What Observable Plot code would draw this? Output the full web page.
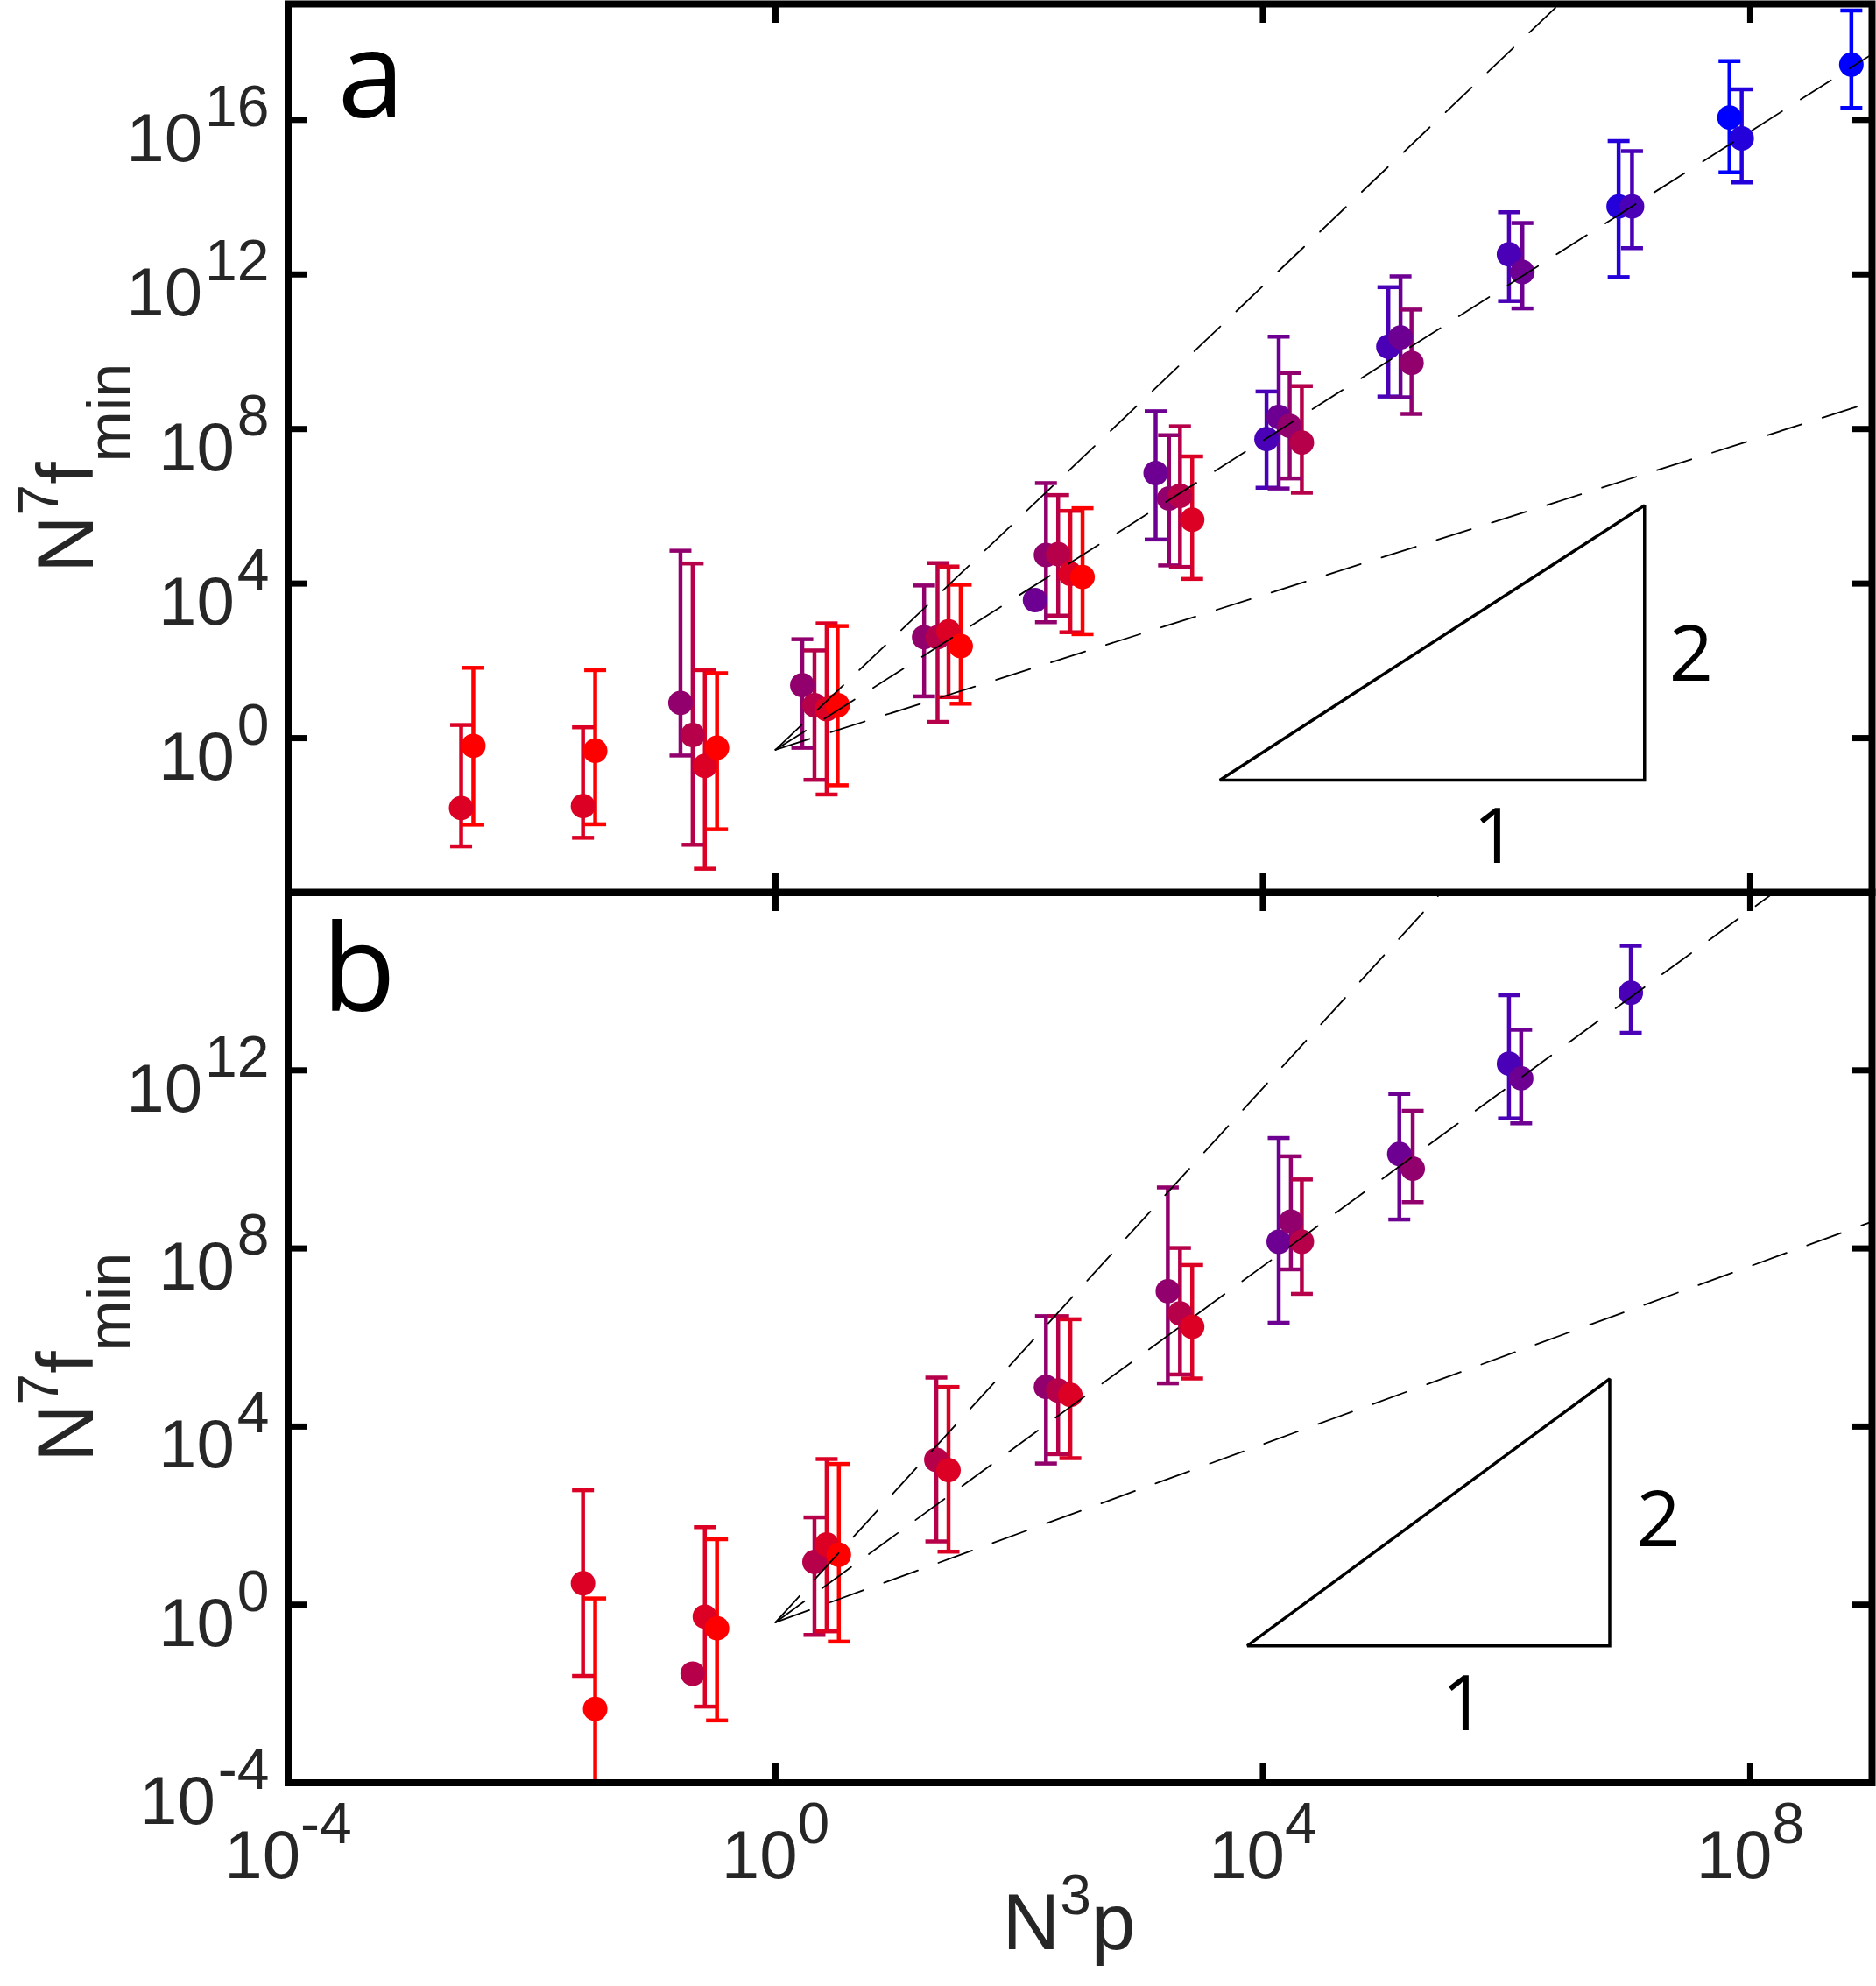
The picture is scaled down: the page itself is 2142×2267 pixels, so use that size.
<!DOCTYPE html>
<html>
<head>
<meta charset="utf-8">
<script src="https://cdn.jsdelivr.net/npm/d3@7"></script>
<script src="https://cdn.jsdelivr.net/npm/@observablehq/plot@0.6"></script>
<style>
  body { margin: 0; background: #fff; }
  #wrap { position: relative; width: 2142px; height: 2267px; overflow: hidden; background: #fff; }
  #wrap > div { position: absolute; left: 0; }
</style>
</head>
<body>
<div id="wrap"></div>
<script>
// ---------- colours (red -> blue, 8 levels) ----------
const palette = ["#ff0000", "#db0024", "#b60049", "#92006d", "#6d0092", "#4900b6", "#2400db", "#0000ff"];

// ---------- panel a data (log10 values) ----------
const aLogX  = [-2.58, -2.48, -1.58, -1.48, -0.78, -0.68, -0.58, -0.48, 0.22, 0.32, 0.42, 0.51,
                1.22, 1.33, 1.42, 1.52, 2.13, 2.22, 2.32, 2.42, 2.52, 3.12, 3.23, 3.32, 3.42,
                4.03, 4.13, 4.22, 4.32, 5.03, 5.13, 5.22, 6.02, 6.13, 6.92, 7.03, 7.83, 7.93, 8.83];
const aLogY  = [-1.81, -0.20, -1.76, -0.33, 0.91, 0.08, -0.72, -0.25, 1.37, 0.85, 0.75, 0.85,
                2.61, 2.61, 2.76, 2.38, 3.57, 4.74, 4.76, 4.25, 4.17, 6.86, 6.20, 6.27, 5.65,
                7.74, 8.31, 8.08, 7.65, 10.13, 10.37, 9.71, 12.52, 12.06, 13.76, 13.76, 16.06, 15.52, 17.43];
const aLogLo = [-2.80, -2.24, -2.58, -2.23, -0.45, -2.76, -3.38, -2.36, -0.25, -1.08, -1.46, -1.22,
                1.08, 0.42, 1.06, 0.89, null, 3.00, 3.17, 2.74, 2.69, 5.14, 4.47, 4.43, 4.12,
                6.48, 6.46, 6.72, 6.35, 8.84, 8.82, 8.39, 11.31, 11.12, 11.93, 12.68, 14.64, 14.38, 16.31];
const aLogHi = [0.34, 1.82, 0.28, 1.76, 4.85, 4.52, 1.76, 1.68, 2.56, 2.27, 2.97, 2.90,
                3.95, 4.53, 4.44, 3.97, null, 6.60, 6.29, 5.88, 5.95, 8.46, 7.84, 8.07, 7.29,
                8.97, 10.39, 9.45, 9.11, 11.67, 11.95, 11.09, 13.61, 13.33, 15.45, 15.19, 17.52, 16.79, 18.83];
const aColor = [1, 0, 1, 0, 3, 2, 1, 0, 3, 2, 1, 0,
                3, 2, 1, 0, 4, 3, 2, 1, 0, 4, 3, 2, 1,
                5, 4, 3, 2, 5, 4, 3, 5, 4, 6, 5, 7, 6, 7];

// ---------- panel b data (log10 values) ----------
const bLogX  = [-1.58, -1.48, -0.68, -0.58, -0.48, 0.32, 0.42, 0.52, 1.32, 1.42,
                2.22, 2.32, 2.42, 3.22, 3.32, 3.42, 4.13, 4.23, 4.32, 5.12, 5.23, 6.02, 6.12, 7.02];
const bLogY  = [0.48, -2.34, -1.55, -0.27, -0.53, 0.96, 1.35, 1.12, 3.25, 3.02,
                4.89, 4.81, 4.71, 7.04, 6.54, 6.24, 8.15, 8.60, 8.15, 10.12, 9.79, 12.15, 11.82, 13.74];
const bLogLo = [-1.60, -6, null, -2.29, -2.60, -0.68, -0.60, -0.83, 1.42, 1.19,
                3.17, 3.38, 3.29, 4.97, 5.17, 5.08, 6.33, 7.53, 6.98, 8.65, 9.04, 10.92, 10.81, 12.84];
const bLogHi = [2.57, 0.14, null, 1.74, 1.47, 1.96, 3.27, 3.16, 5.10, 4.89,
                6.48, 6.48, 6.41, 9.37, 8.01, 7.63, 10.48, 10.07, 9.55, 11.47, 11.09, 13.69, 12.91, 14.80];
const bColor = [1, 0, 2, 1, 0, 2, 1, 0, 2, 1,
                3, 2, 1, 3, 2, 1, 4, 3, 2, 4, 3, 5, 4, 5];

// ---------- guide lines y = c * x^n ----------
const guideSlopes = [1, 2, 3];
const guideXRange = [1, 1e9];
const guidePrefA = 0.5;
const guidePrefB = 0.4;

// ---------- slope triangles (log10 vertices) & labels ----------
const triA = {x: [7.133, 7.133, 3.647, 7.133], y: [-1.086, 6.024, -1.086, -1.086]};
const triB = {x: [6.847, 6.847, 3.872, 6.847], y: [-0.925, 5.071, -0.925, -0.925]};
const triLabelsA = [{t: "2", x: 7.515, y: 2.115}, {t: "1", x: 5.907, y: -2.60}];
const triLabelsB = [{t: "2", x: 7.248, y: 1.876}, {t: "1", x: 5.648, y: -2.258}];

// ---------- axis ticks (exponents) ----------
const xTickExps = [-4, 0, 4, 8];
const xInnerTicks = [0, 4, 8];
const yTickExpsA = [0, 4, 8, 12, 16];
const yTickExpsB = [-4, 0, 4, 8, 12];
const yInnerTicksA = [0, 4, 8, 12, 16];
const yInnerTicksB = [0, 4, 8, 12];

// ---------- layout constants ----------
const W = 2142, ML = 328.5, MR = 5;
const PW = W - ML - MR;
const FONT = "'Liberation Sans', Arial, Helvetica, sans-serif";
const LFONT = "'Open Sans', sans-serif";
const INK = "#262626";
const MAIN = 78, EXP = 66;
const mainW = 2 * 0.556 * MAIN;
const expW = s => [...s].reduce((a, ch) => a + (ch === "-" ? 0.333 : 0.556), 0) * EXP;

const capSymbol = {
  draw(ctx, size) { const w = Math.sqrt(size / Math.PI); ctx.moveTo(-w, 0); ctx.lineTo(w, 0); }
};

function rowsOf(lx, ly, llo, lhi, lc) {
  return lx.map((x, i) => ({
    x: 10 ** x, y: 10 ** ly[i],
    lo: llo[i] == null ? null : 10 ** llo[i],
    hi: lhi[i] == null ? null : 10 ** lhi[i],
    c: palette[lc[i]]
  }));
}

function yTickLabelMarks(exps) {
  return exps.flatMap(e => {
    const ew = expW(String(e));
    return [
      Plot.text([e], {y: d => 10 ** d, frameAnchor: "left", text: () => "10", textAnchor: "end", lineAnchor: "bottom",
        dx: -21.5 - ew - 3, dy: 47, fontSize: MAIN, fontFamily: FONT, fill: INK}),
      Plot.text([e], {y: d => 10 ** d, frameAnchor: "left", text: d => String(d), textAnchor: "end", lineAnchor: "bottom",
        dx: -21.5, dy: 7, fontSize: EXP, fontFamily: FONT, fill: INK})
    ];
  });
}

function xTickLabelMarks(exps, dyMain) {
  return exps.flatMap(e => {
    const tot = mainW + expW(String(e));
    return [
      Plot.text([e], {x: d => 10 ** d, frameAnchor: "bottom", text: () => "10", textAnchor: "start", lineAnchor: "bottom",
        dx: -tot / 2, dy: dyMain, fontSize: MAIN, fontFamily: FONT, fill: INK}),
      Plot.text([e], {x: d => 10 ** d, frameAnchor: "bottom", text: d => String(d), textAnchor: "start", lineAnchor: "bottom",
        dx: -tot / 2 + mainW, dy: dyMain - 40, fontSize: EXP, fontFamily: FONT, fill: INK})
    ];
  });
}

function tickMarks(xt, yt, PH) {
  const o = {stroke: "black", strokeWidth: 7};
  return [
    Plot.tickY(yt, {y: d => 10 ** d, ...o, insetRight: PW - 22}),
    Plot.tickY(yt, {y: d => 10 ** d, ...o, insetLeft: PW - 22}),
    Plot.tickX(xt, {x: d => 10 ** d, ...o, insetBottom: PH - 22}),
    Plot.tickX(xt, {x: d => 10 ** d, ...o, insetTop: PH - 22})
  ];
}

function yTitleMarks() {
  const base = {frameAnchor: "left", rotate: -90, textAnchor: "start", lineAnchor: "bottom", fontFamily: FONT, fill: INK};
  return [
    Plot.text(["N"], {...base, text: d => d, dx: -223.5, dy: 142.35, fontSize: 91}),
    Plot.text(["7"], {...base, text: d => d, dx: -263.5, dy: 76.65, fontSize: 64}),
    Plot.text(["f"], {...base, text: d => d, dx: -223.5, dy: 41.05, fontSize: 91}),
    Plot.text(["min"], {...base, text: d => d, dx: -180.5, dy: 15.75, fontSize: 70})
  ];
}

function guideRows(pref) {
  return guideSlopes.flatMap(n => guideXRange.map(x => ({x, y: pref * x ** n, n})));
}

function panel({rows, yDomain, height, marginTop, marginBottom, yTicks, yInner, pref, tri, triLabels, letter, letterDx, letterDy, extra}) {
  const PH = height - marginTop - marginBottom;
  const withBars = rows.filter(d => d.lo != null);
  return Plot.plot({
    width: W, height, marginLeft: ML, marginRight: MR, marginTop, marginBottom,
    style: {background: "transparent", overflow: "visible"},
    x: {type: "log", domain: [1e-4, 1e9], axis: null},
    y: {type: "log", domain: yDomain, axis: null},
    color: {type: "identity"},
    marks: [
      Plot.ruleX(withBars, {x: "x", y1: "lo", y2: "hi", stroke: "c", strokeWidth: 4.5, clip: true}),
      Plot.dot(withBars, {x: "x", y: "hi", symbol: capSymbol, r: 12.5, fill: "none", stroke: "c", strokeWidth: 4.5, clip: true}),
      Plot.dot(withBars, {x: "x", y: "lo", symbol: capSymbol, r: 12.5, fill: "none", stroke: "c", strokeWidth: 4.5, clip: true}),
      Plot.dot(rows, {x: "x", y: "y", r: 14, fill: "c", stroke: null}),
      Plot.line(guideRows(pref), {x: "x", y: "y", z: "n", stroke: "black", strokeWidth: 1.8, strokeDasharray: "41,25", clip: true}),
      Plot.line(tri.x.map((x, i) => ({x: 10 ** x, y: 10 ** tri.y[i]})),
        {x: "x", y: "y", stroke: "black", strokeWidth: 3.5, strokeLinejoin: "miter", strokeLinecap: "square"}),
      Plot.text(triLabels, {x: d => 10 ** d.x, y: d => 10 ** d.y, text: "t", fontSize: 88, fontFamily: LFONT,
        fill: "black", textAnchor: "middle", lineAnchor: "middle"}),
      Plot.frame({stroke: "black", strokeWidth: 8}),
      ...tickMarks(xInnerTicks, yInner, PH),
      ...yTickLabelMarks(yTicks),
      ...yTitleMarks(),
      Plot.text([letter], {frameAnchor: "top-left", text: d => d, textAnchor: "start", lineAnchor: "bottom",
        dx: letterDx, dy: letterDy, fontSize: 138, fontWeight: 500, fontFamily: LFONT, fill: "black"}),
      ...(extra || [])
    ]
  });
}

const wrap = document.getElementById("wrap");

// panel a
const svgA = panel({
  rows: rowsOf(aLogX, aLogY, aLogLo, aLogHi, aColor),
  yDomain: [1e-4, 1e19], height: 1030, marginTop: 4, marginBottom: 11.5,
  yTicks: yTickExpsA, yInner: yInnerTicksA, pref: guidePrefA,
  tri: triA, triLabels: triLabelsA, letter: "a", letterDx: 56.5, letterDy: 129.4
});

// panel b (with x axis labels)
const xTitle = [
  Plot.text(["N"], {frameAnchor: "bottom", text: d => d, textAnchor: "start", lineAnchor: "bottom", dx: -88.75, dy: 189.5, fontSize: 91, fontFamily: FONT, fill: INK}),
  Plot.text(["3"], {frameAnchor: "bottom", text: d => d, textAnchor: "start", lineAnchor: "bottom", dx: -23.05, dy: 149.5, fontSize: 64, fontFamily: FONT, fill: INK}),
  Plot.text(["p"], {frameAnchor: "bottom", text: d => d, textAnchor: "start", lineAnchor: "bottom", dx: 12.55, dy: 189.5, fontSize: 91, fontFamily: FONT, fill: INK})
];
const svgB = panel({
  rows: rowsOf(bLogX, bLogY, bLogLo, bLogHi, bColor),
  yDomain: [1e-4, 1e16], height: 1267, marginTop: 18, marginBottom: 232.5,
  yTicks: yTickExpsB, yInner: yInnerTicksB, pref: guidePrefB,
  tri: triB, triLabels: triLabelsB, letter: "b", letterDx: 38.5, letterDy: 135,
  extra: [...xTickLabelMarks(xTickExps, 108.5), ...xTitle]
});

const boxB = document.createElement("div");
boxB.style.top = "1000px";
boxB.appendChild(svgB);
wrap.appendChild(boxB);

const boxA = document.createElement("div");
boxA.style.top = "0px";
boxA.appendChild(svgA);
wrap.appendChild(boxA);
</script>
</body>
</html>
